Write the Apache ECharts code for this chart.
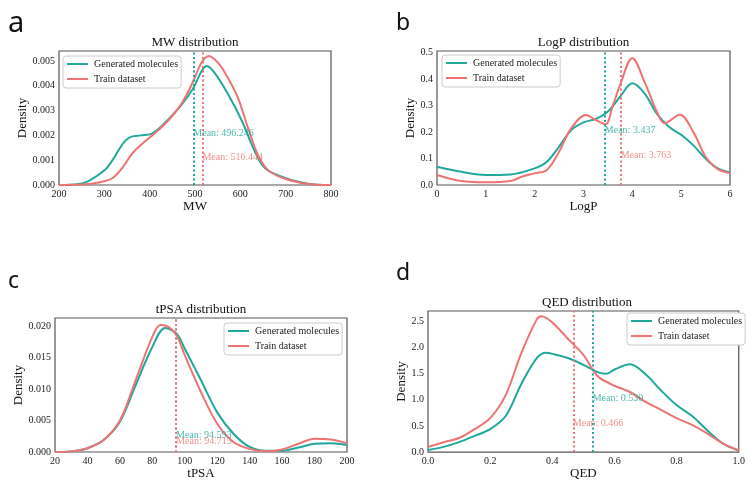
<!DOCTYPE html>
<html>
<head>
<meta charset="utf-8">
<script src="https://cdn.jsdelivr.net/npm/echarts@6/dist/echarts.min.js"></script>
<style>html,body{margin:0;padding:0;background:#fff;}#c{width:748px;height:481px;}</style>
</head>
<body>
<div id="c"></div>
<script>
// ---- Panel a: MW ----
const mwGenX   = [200,240,265,301,318,333,346,360,380,404,441,471,496,515,526,544,573,603,632,654,691,735,770,800];
const mwGenY   = [0,0.00003,0.00016,0.0006,0.0010,0.00145,0.00178,0.00195,0.002,0.00206,0.00264,0.00325,0.0039,0.0046,0.0048,0.0045,0.00366,0.0026,0.00135,0.00068,0.00034,0.0001,0.00001,0];
const mwTrX    = [200,250,265,300,320,340,363,390,412,441,471,494,515,530,552,573,595,617,639,661,691,735,770,800];
const mwTrY    = [0,0.00002,0.00004,0.00015,0.0003,0.0007,0.0013,0.00176,0.0021,0.0026,0.0033,0.0041,0.00495,0.0052,0.0049,0.0043,0.0035,0.0023,0.0012,0.0006,0.0003,0.00008,0.00001,0];
const mwMeans  = [496.246, 516.444];

// ---- Panel b: LogP ----
const lpGenX = [0,0.5,1,1.5,2,2.25,2.5,2.75,3,3.25,3.5,3.75,4,4.25,4.5,4.75,5,5.25,5.5,5.75,6];
const lpGenY = [0.069,0.05,0.038,0.04,0.063,0.088,0.145,0.208,0.237,0.25,0.278,0.334,0.385,0.347,0.27,0.22,0.19,0.15,0.10,0.063,0.048];
const lpTrX  = [0,0.5,1,1.5,1.75,2,2.25,2.5,2.75,3.05,3.25,3.45,3.6,3.75,4,4.25,4.5,4.66,4.97,5.25,5.5,5.75,6];
const lpTrY  = [0.038,0.015,0.01,0.015,0.032,0.044,0.057,0.126,0.215,0.265,0.246,0.23,0.30,0.379,0.48,0.39,0.278,0.234,0.266,0.20,0.107,0.06,0.045];
const lpMeans = [3.437, 3.763];

// ---- Panel c: tPSA ----
const tpGenX = [20,30,40,50,60,70,80,88,95,100,110,120,130,140,150,160,170,180,190,200];
const tpGenY = [0,0.0001,0.0006,0.0019,0.0048,0.0108,0.0167,0.0197,0.0188,0.0164,0.0114,0.0063,0.0029,0.0008,0.0002,0.0002,0.0007,0.0013,0.0014,0.0011];
const tpTrX  = [20,30,40,50,60,70,80,85,90,95,100,110,120,130,140,150,160,170,180,190,200];
const tpTrY  = [0,0.0001,0.0006,0.0019,0.005,0.0116,0.0183,0.0202,0.0199,0.0185,0.0154,0.0095,0.0045,0.0016,0.0005,0.0001,0.0004,0.0013,0.0021,0.0020,0.0014];
const tpMeans = [94.593, 94.715];

// ---- Panel d: QED ----
const qdGenX = [0,0.05,0.1,0.15,0.2,0.25,0.3,0.35,0.38,0.4,0.45,0.5,0.55,0.575,0.6,0.65,0.7,0.75,0.8,0.85,0.9,0.95,1.0];
const qdGenY = [0.04,0.1,0.19,0.31,0.44,0.69,1.30,1.80,1.90,1.88,1.80,1.67,1.52,1.50,1.58,1.68,1.49,1.18,0.90,0.69,0.41,0.16,0.03];
const qdTrX  = [0,0.05,0.1,0.15,0.2,0.25,0.3,0.35,0.365,0.4,0.45,0.5,0.53,0.55,0.6,0.65,0.7,0.75,0.8,0.85,0.9,0.95,1.0];
const qdTrY  = [0.1,0.19,0.27,0.44,0.65,1.09,1.89,2.54,2.60,2.48,2.17,1.86,1.58,1.43,1.27,1.15,0.96,0.81,0.65,0.52,0.35,0.16,0.03];
const qdMeans = [0.530, 0.466];

const seriesNames = ['Generated molecules', 'Train dataset'];
const titles = ['MW distribution', 'LogP distribution', 'tPSA distribution', 'QED distribution'];
const xNames = ['MW', 'LogP', 'tPSA', 'QED'];
const panelLetters = ['a', 'b', 'c', 'd'];

const TEAL = '#1fa89b';
const RED = '#ee7373';
const SERIF = 'Liberation Serif';
const pair = (xs, ys) => xs.map((x, i) => [x, ys[i]]);

const grids = [
  {left: 59, top: 51, width: 272, height: 134},
  {left: 437, top: 51, width: 293, height: 134},
  {left: 55, top: 318, width: 292, height: 134},
  {left: 428, top: 311, width: 318, height: 146}
];
const xCfg = [
  {min: 200, max: 800, interval: 100, dec: 0},
  {min: 0, max: 6, interval: 1, dec: 0},
  {min: 20, max: 200, interval: 20, dec: 0},
  {min: 0, max: 1, interval: 0.2, dec: 1}
];
const yCfg = [
  {min: 0, max: 0.0054, interval: 0.001, dec: 3, gap: 30},
  {min: 0, max: 0.507, interval: 0.1, dec: 1, gap: 18},
  {min: 0, max: 0.0213, interval: 0.005, dec: 3, gap: 30},
  {min: 0, max: 2.7, interval: 0.5, dec: 1, gap: 17}
];
const meanLabelY = [
  [0.00207, 0.0011],
  [0.208, 0.111],
  [0.0026, 0.0017],
  [1.02, 0.55]
];
const panels = [
  {gen: pair(mwGenX, mwGenY), tr: pair(mwTrX, mwTrY), means: mwMeans},
  {gen: pair(lpGenX, lpGenY), tr: pair(lpTrX, lpTrY), means: lpMeans},
  {gen: pair(tpGenX, tpGenY), tr: pair(tpTrX, tpTrY), means: tpMeans},
  {gen: pair(qdGenX, qdGenY), tr: pair(qdTrX, qdTrY), means: qdMeans}
];
const tickFmt = (interval, dec) => v => {
  const r = v / interval;
  if (Math.abs(r - Math.round(r)) > 1e-6) return '';
  return v.toFixed(dec);
};

const option = {
  animation: false,
  backgroundColor: '#fff',
  grid: grids.map(g => Object.assign({show: true, borderColor: '#555', borderWidth: 1.2, backgroundColor: 'transparent'}, g)),
  title: grids.map((g, i) => ({
    text: titles[i],
    left: g.left + g.width / 2,
    top: g.top - 15,
    textAlign: 'center',
    padding: 0,
    textStyle: {fontFamily: SERIF, fontSize: 13, fontWeight: 'normal', color: '#111'}
  })),
  xAxis: grids.map((g, i) => ({
    type: 'value', gridIndex: i,
    min: xCfg[i].min, max: xCfg[i].max, interval: xCfg[i].interval,
    name: xNames[i], nameLocation: 'middle', nameGap: 14,
    nameTextStyle: {fontFamily: SERIF, fontSize: 13, color: '#111'},
    axisLine: {show: false}, axisTick: {show: false}, splitLine: {show: false},
    axisLabel: {fontFamily: SERIF, fontSize: 10, color: '#222', margin: 4, formatter: tickFmt(xCfg[i].interval, xCfg[i].dec), showMinLabel: true, showMaxLabel: true}
  })),
  yAxis: grids.map((g, i) => ({
    type: 'value', gridIndex: i,
    min: yCfg[i].min, max: yCfg[i].max, interval: yCfg[i].interval,
    name: 'Density', nameLocation: 'middle', nameGap: yCfg[i].gap, nameRotate: 90,
    nameTextStyle: {fontFamily: SERIF, fontSize: 13, color: '#111'},
    axisLine: {show: false}, axisTick: {show: false}, splitLine: {show: false},
    axisLabel: {fontFamily: SERIF, fontSize: 10, color: '#222', margin: 4, formatter: tickFmt(yCfg[i].interval, yCfg[i].dec)}
  })),
  legend: [
    {left: 63, top: 56},
    {left: 442, top: 55},
    {left: 224, top: 323},
    {left: 627, top: 313}
  ].map(p => Object.assign({
    data: seriesNames, orient: 'vertical', icon: 'rect', itemWidth: 21, itemHeight: 2,
    itemGap: 3, padding: [2, 3, 3, 4], borderColor: '#ccc', borderWidth: 1, borderRadius: 3,
    backgroundColor: '#fff', selectedMode: false,
    textStyle: {fontFamily: SERIF, fontSize: 10, color: '#222', lineHeight: 12, padding: [0, 0, 0, 1]}
  }, p)),
  graphic: [
    {type: 'text', left: 8, top: 9, style: {text: panelLetters[0], font: '29px "Noto Sans"', fill: '#111'}},
    {type: 'text', left: 396, top: 12, style: {text: panelLetters[1], font: '23px "Noto Sans"', fill: '#111'}},
    {type: 'text', left: 8, top: 270, style: {text: panelLetters[2], font: '23px "Noto Sans"', fill: '#111'}},
    {type: 'text', left: 396, top: 262, style: {text: panelLetters[3], font: '23px "Noto Sans"', fill: '#111'}}
  ],
  series: []
};

panels.forEach((p, i) => {
  const cols = [TEAL, RED];
  [p.gen, p.tr].forEach((d, k) => {
    option.series.push({
      type: 'line', name: seriesNames[k], xAxisIndex: i, yAxisIndex: i,
      data: d, smooth: 0.35, symbol: 'none',
      lineStyle: {color: cols[k], width: 2}, itemStyle: {color: cols[k]},
      z: 2 + k,
      markLine: {
        silent: true, symbol: ['none', 'none'], label: {show: false},
        lineStyle: {color: cols[k], type: [2, 2.5], width: 2, opacity: 1},
        data: [{xAxis: p.means[k]}]
      }
    });
    option.series.push({
      type: 'scatter', name: 'meanlabel' + i + k, xAxisIndex: i, yAxisIndex: i,
      symbolSize: 0, silent: true, z: 5,
      data: [[p.means[k], meanLabelY[i][k]]],
      label: {show: true, position: 'right', distance: 0, fontFamily: SERIF, fontSize: 10, color: cols[k],
        formatter: 'Mean: ' + p.means[k].toFixed(3)}
    });
  });
});

const chart = echarts.init(document.getElementById('c'), null, {renderer: 'canvas'});
chart.setOption(option);
</script>
</body>
</html>
